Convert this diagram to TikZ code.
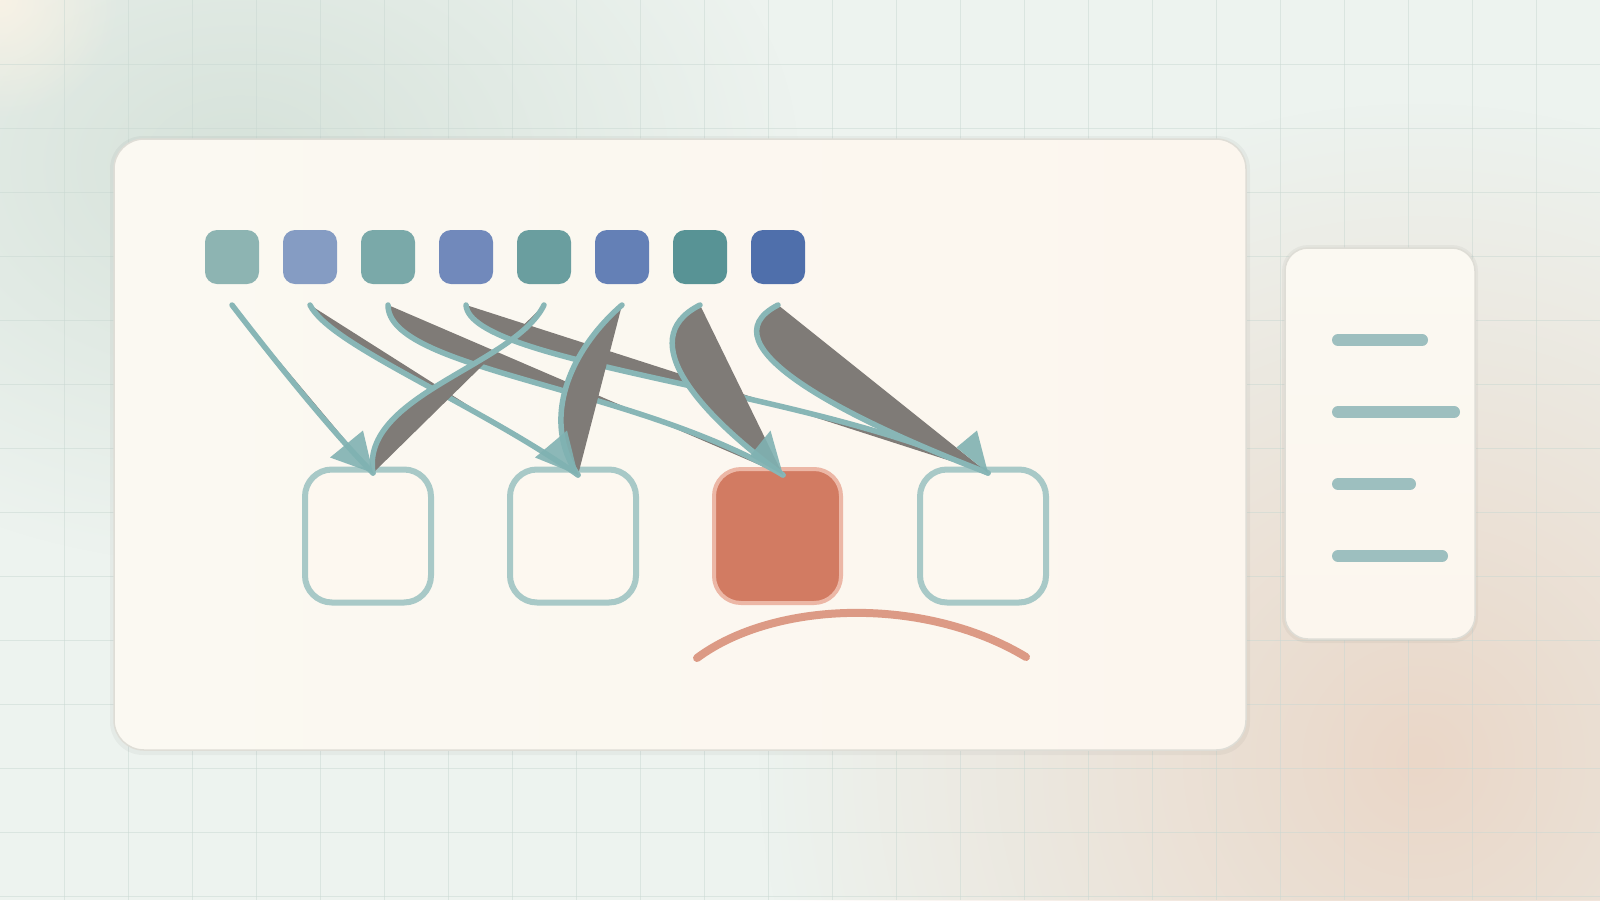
\documentclass[tikz,border=0pt]{standalone}
\usetikzlibrary{fadings}
\definecolor{bgbase}{HTML}{EDF3EF}
\definecolor{greenblob}{HTML}{D6E2DA}
\definecolor{peachblob}{HTML}{EAD7C8}
\definecolor{creamblob}{HTML}{F8F2E5}
\definecolor{gridc}{HTML}{C9D8D2}
\definecolor{panelL}{HTML}{FBF9F2}
\definecolor{panelR}{HTML}{FCF6EE}
\definecolor{panelborder}{HTML}{DEDDD6}
\definecolor{menuc}{HTML}{9DBFBF}
\definecolor{sqa}{HTML}{8DB4B2}
\definecolor{sqb}{HTML}{859CC3}
\definecolor{sqc}{HTML}{7AA9A9}
\definecolor{sqd}{HTML}{7189BB}
\definecolor{sqe}{HTML}{6A9E9F}
\definecolor{sqf}{HTML}{6480B6}
\definecolor{sqg}{HTML}{589395}
\definecolor{sqh}{HTML}{4F6FAB}
\definecolor{boxborder}{HTML}{A8C9C7}
\definecolor{boxfill}{HTML}{FDF8F0}
\definecolor{redfill}{HTML}{D27B62}
\definecolor{redborder}{HTML}{ECB7A6}
\definecolor{arcc}{HTML}{DC9A85}
\definecolor{teal}{HTML}{88B6B6}
\definecolor{headc}{HTML}{80B2B2}
\definecolor{wedge}{HTML}{7F7B77}
\tikzfading[name=blobfade, inner color=transparent!0, outer color=transparent!100]
\tikzset{
  sq/.style={rectangle, rounded corners=12pt, minimum width=54pt, minimum height=54pt, inner sep=0pt},
  tbox/.style={rectangle, rounded corners=27pt, minimum width=126pt, minimum height=133pt, inner sep=0pt, draw=boxborder, fill=boxfill, line width=6pt},
  redbox/.style={rectangle, rounded corners=27pt, minimum width=127pt, minimum height=134pt, inner sep=0pt, draw=redborder, fill=redfill, line width=4pt},
  arrowpath/.style={fill=wedge, draw=teal, line width=5.5pt, line cap=round},
  headtri/.style={fill=headc, fill opacity=0.9},
  menuline/.style={draw=menuc, line width=12pt, line cap=round},
  frown/.style={draw=arcc, line width=8pt, line cap=round},
  gridline/.style={draw=gridc, line width=1pt, opacity=0.5},
}
\begin{document}
\begin{tikzpicture}[x=1pt,y=-1pt]
\useasboundingbox (0,0) rectangle (1600,900);
% background
\fill[bgbase] (0,0) rectangle (1600,900);
\fill[greenblob, path fading=blobfade] (240,165) ellipse (560 and 400);
\fill[peachblob, path fading=blobfade] (1420,760) ellipse (660 and 660);
\fill[creamblob, path fading=blobfade] (0,0) circle (120);
\foreach \gx in {64,128,...,1600} {\draw[gridline] (\gx,0) -- (\gx,900);}
\foreach \gy in {64,128,...,896} {\draw[gridline] (0,\gy) -- (1600,\gy);}
% main panel
\fill[black, opacity=0.035, rounded corners=33pt] (110,136) rectangle (1250,755);
\shade[left color=panelL, right color=panelR, rounded corners=30pt] (114,139) rectangle (1246,750);
\draw[panelborder, line width=1.5pt, rounded corners=30pt] (114,139) rectangle (1246,750);
% side panel
\fill[black, opacity=0.035, rounded corners=26pt] (1282,245) rectangle (1478,643);
\shade[top color=panelL, bottom color=panelR, rounded corners=23pt] (1285,248) rectangle (1475,639);
\draw[panelborder, line width=1.5pt, rounded corners=23pt] (1285,248) rectangle (1475,639);
\draw[menuline] (1338,340) -- (1422,340);
\draw[menuline] (1338,412) -- (1454,412);
\draw[menuline] (1338,484) -- (1410,484);
\draw[menuline] (1338,556) -- (1442,556);
% source squares
\node[sq, fill=sqa] (q1) at (232,257) {};
\node[sq, fill=sqb] (q2) at (310,257) {};
\node[sq, fill=sqc] (q3) at (388,257) {};
\node[sq, fill=sqd] (q4) at (466,257) {};
\node[sq, fill=sqe] (q5) at (544,257) {};
\node[sq, fill=sqf] (q6) at (622,257) {};
\node[sq, fill=sqg] (q7) at (700,257) {};
\node[sq, fill=sqh] (q8) at (778,257) {};
% target boxes
\node[tbox] (b1) at (368,536) {};
\node[tbox] (b2) at (573,536) {};
\node[redbox] (b3) at (777.5,536) {};
\node[tbox] (b4) at (983,536) {};
% frown
\draw[frown] (697,658) .. controls (775,600) and (925,596) .. (1026,657);
% arrow ends
\coordinate (s1) at (232,305);
\coordinate (s2) at (310,305);
\coordinate (s3) at (388,305);
\coordinate (s4) at (466,305);
\coordinate (s5) at (544,305);
\coordinate (s6) at (622,305);
\coordinate (s7) at (700,305);
\coordinate (s8) at (778,305);
\coordinate (t1) at (373,473);
\coordinate (t2) at (578,475);
\coordinate (t3) at (783,475);
\coordinate (t4) at (988,473);
% arrows
\filldraw[arrowpath] (s1) .. controls (255,335) and (325,425) .. (t1);
\filldraw[arrowpath] (s2) .. controls (330,345) and (470,400) .. (t2);
\filldraw[arrowpath] (s3) .. controls (388,370) and (630,385) .. (t3);
\filldraw[arrowpath] (s4) .. controls (470,365) and (820,390) .. (t4);
\filldraw[arrowpath] (s5) .. controls (515,365) and (360,395) .. (t1);
\filldraw[arrowpath] (s6) .. controls (570,350) and (540,420) .. (t2);
\filldraw[arrowpath] (s7) .. controls (630,340) and (705,418) .. (t3);
\filldraw[arrowpath] (s8) .. controls (700,345) and (850,420) .. (t4);
% arrowheads
\fill[headtri] (330,457.5) -- (363,430.5) -- (t1) -- cycle;
\fill[headtri] (535,457.5) -- (567,430.5) -- (t2) -- cycle;
\fill[headtri] (750,456) -- (770.5,430.5) -- (t3) -- cycle;
\fill[headtri] (956.5,447.5) -- (977,430.5) -- (t4) -- cycle;
\end{tikzpicture}
\end{document}
